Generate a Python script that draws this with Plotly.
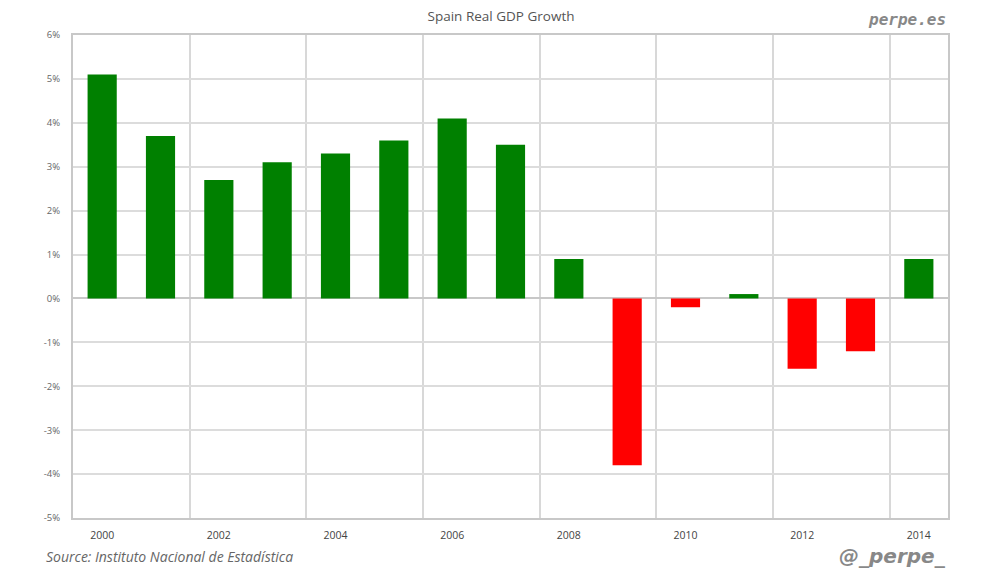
import plotly.graph_objects as go

years = list(range(2000, 2015))
growth = [5.1, 3.7, 2.7, 3.1, 3.3, 3.6, 4.1, 3.5, 0.9, -3.8, -0.2, 0.1, -1.6, -1.2, 0.9]
colors = ["#008000" if v >= 0 else "#ff0000" for v in growth]
y_ticks = [-5, -4, -3, -2, -1, 0, 1, 2, 3, 4, 5, 6]
y_labels = [f"{v}%" for v in y_ticks]
x_ticks = list(range(2000, 2015, 2))
x_grid = [y + 1.5 for y in range(2000, 2013, 2)]

fig = go.Figure()
fig.add_trace(go.Bar(x=years, y=growth, marker=dict(color=colors, line=dict(width=0)), width=0.5))

fig.update_layout(
    width=992, height=586,
    margin=dict(l=65, r=52, t=27, b=76),
    paper_bgcolor="white", plot_bgcolor="white",
    showlegend=False,
    font=dict(family="Open Sans, DejaVu Sans, sans-serif", color="#555"),
    title=dict(text="Spain Real GDP Growth", x=0.497, xanchor="center", y=0.986, yanchor="middle",
               font=dict(size=13.5, color="#555")),
    xaxis=dict(range=[1999.5, 2014.5], tickvals=x_ticks, ticktext=[str(v) for v in x_ticks],
               showgrid=False, zeroline=False, showline=True, linecolor="#c8c8c8", linewidth=2,
               mirror=True, ticks="", tickfont=dict(size=10.5, color="#444"), ticklabelstandoff=6,
               minor=dict(tickvals=x_grid, showgrid=True, gridcolor="#d8d8d8", gridwidth=2, ticks="")),
    yaxis=dict(range=[-5, 6], tickvals=y_ticks, ticktext=y_labels, showgrid=True,
               gridcolor="#dcdcdc", gridwidth=2, zeroline=True, zerolinecolor="#c8c8c8", zerolinewidth=2,
               showline=True, linecolor="#c8c8c8", linewidth=2, mirror=True, ticks="",
               tickfont=dict(size=9.5, color="#666"), ticklabelstandoff=9),
    bargap=0.5,
)

fig.add_annotation(text="<b><i>perpe.es</i></b>", xref="paper", yref="paper", x=1.0, y=1.0,
                   xanchor="right", yanchor="bottom", yshift=4, showarrow=False,
                   font=dict(family="DejaVu Sans Mono, monospace", size=16, color="#888"))
fig.add_annotation(text="<i>Source: Instituto Nacional de Estadística</i>", xref="paper", yref="paper",
                   x=-0.033, y=0, xanchor="left", yanchor="top", yshift=-27, showarrow=False,
                   font=dict(family="Open Sans, DejaVu Sans, sans-serif", size=14, color="#666"))
fig.add_annotation(text="<b><i>@_perpe_</i></b>", xref="paper", yref="paper", x=1.0, y=0,
                   xanchor="right", yanchor="top", yshift=-24, showarrow=False,
                   font=dict(family="DejaVu Sans, sans-serif", size=20, color="#888"))

fig.write_html("out.html")
